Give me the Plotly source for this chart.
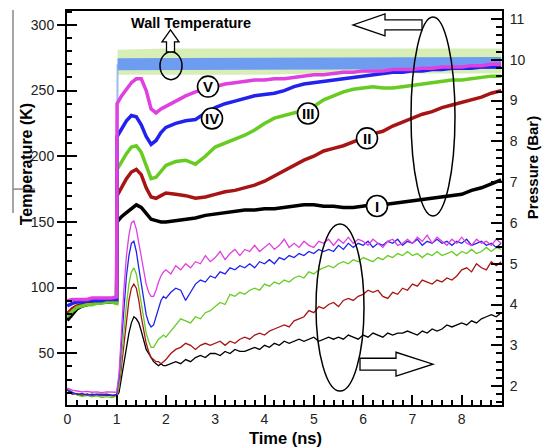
import plotly.graph_objects as go

# ---------------- data ----------------
# sample times (ns)
T_TIME = ([round(0.1 * i, 2) for i in range(11)] + [1.01] +
          [round(1.1 + 0.1 * i, 2) for i in range(10)] +
          [round(2.2 + 0.2 * i, 2) for i in range(34)])
P_TIME = ([round(0.1 * i, 2) for i in range(11)] +
          [round(1.05 + 0.05 * i, 2) for i in range(20)] +
          [round(2.1 + 0.1 * i, 2) for i in range(68)])

CASES = ["I", "II", "III", "IV", "V"]
COLORS = ["#000000", "#A81414", "#66CC22", "#2222EE", "#E040E0"]

# Temperature (K): 0-1 ns pre-heating segment, then 1.01 ns onward
TEMP_I = [75, 80, 84, 86, 87, 88, 88, 89, 89, 89, 89,
          150, 154, 157, 160, 163, 161, 156, 152, 151, 150, 150,
          151, 152, 153, 155, 156, 157, 158, 159, 159, 160,
          160, 161, 162, 163, 163, 162, 162, 161, 161, 162,
          163, 163, 164, 165, 166, 167, 168, 169, 170, 171,
          174, 176, 179, 182]
TEMP_II = [80, 84, 86, 87, 88, 88, 89, 89, 89, 90, 90,
           170, 176, 183, 188, 190, 186, 176, 169, 168, 170, 172,
           171, 170, 168, 169, 171, 173, 174, 176, 178, 181,
           185, 189, 193, 197, 200, 204, 206, 208, 211, 214,
           217, 219, 223, 226, 229, 232, 234, 237, 239, 241,
           243, 245, 248, 250]
TEMP_III = [78, 82, 85, 86, 87, 87, 88, 88, 89, 89, 88,
            190, 196, 202, 207, 208, 203, 192, 183, 184, 189, 193,
            196, 197, 194, 200, 207, 210, 213, 216, 220, 225,
            229, 231, 233, 235, 238, 243, 246, 249, 251, 252,
            253, 252, 252, 253, 254, 255, 256, 257, 258, 258,
            259, 260, 261, 261]
TEMP_IV = [86, 88, 89, 89, 90, 90, 90, 90, 91, 91, 91,
           215, 221, 227, 231, 230, 224, 215, 209, 212, 218, 222,
           225, 227, 228, 233, 237, 240, 242, 244, 246, 247,
           248, 250, 253, 255, 256, 257, 258, 259, 260, 261,
           262, 263, 264, 264, 265, 265, 266, 266, 267, 267,
           267, 268, 268, 268]
TEMP_V = [90, 91, 91, 91, 91, 92, 92, 92, 92, 92, 93,
          240, 246, 251, 256, 259, 259, 250, 236, 233, 236, 238,
          242, 246, 249, 251, 253, 255, 256, 257, 258, 258,
          259, 259, 260, 261, 262, 262, 263, 264, 264, 265,
          265, 265, 266, 266, 266, 267, 267, 268, 268, 268,
          269, 269, 270, 270]

# Pressure (bar)
PRES_I = [1.9, 1.83, 1.8, 1.78, 1.8, 1.78, 1.8, 1.79, 1.8, 1.78, 1.75,
          1.85, 2.2, 2.6, 3.0, 3.3, 3.55, 3.7, 3.65, 3.55, 3.35, 3.1, 2.9, 2.8, 2.7, 2.6, 2.55, 2.5, 2.55, 2.5, 2.5,
          2.55, 2.6, 2.55, 2.65, 2.6, 2.7, 2.75, 2.7, 2.8, 2.8,
          2.75, 2.85, 2.8, 2.9, 2.85, 2.85, 2.9, 2.95, 2.9, 3.0,
          2.95, 3.05, 3.0, 3.1, 3.05, 3.1, 3.15, 3.1, 3.15, 3.2,
          3.1, 3.15, 3.2, 3.15, 3.2, 3.15, 3.25, 3.2, 3.15, 3.25,
          3.2, 3.3, 3.25, 3.2, 3.3, 3.25, 3.3, 3.3, 3.35, 3.3,
          3.25, 3.35, 3.3, 3.4, 3.35, 3.4, 3.5, 3.45, 3.5, 3.55,
          3.5, 3.6, 3.55, 3.65, 3.7, 3.75, 3.7, 3.8]
PRES_II = [1.92, 1.8, 1.82, 1.76, 1.8, 1.77, 1.79, 1.76, 1.78, 1.77, 1.75,
           1.95, 2.5, 3.1, 3.6, 4.1, 4.4, 4.5, 4.4, 4.1, 3.7, 3.35, 3.05, 2.85, 2.7, 2.65, 2.6, 2.6, 2.55, 2.6, 2.65,
           2.8, 2.9, 2.95, 3.05, 3.0, 2.9, 3.0, 3.05, 3.0, 3.05,
           3.1, 3.0, 3.1, 3.05, 3.15, 3.2, 3.15, 3.25, 3.3, 3.25,
           3.35, 3.4, 3.45, 3.5, 3.45, 3.6, 3.65, 3.7, 3.85, 3.8,
           3.95, 3.9, 4.0, 4.05, 3.95, 4.1, 4.15, 4.1, 4.2, 4.25,
           4.35, 4.3, 4.35, 4.2, 4.15, 4.3, 4.25, 4.4, 4.35, 4.5,
           4.45, 4.6, 4.55, 4.5, 4.6, 4.55, 4.65, 4.6, 4.7, 4.85,
           4.9, 4.8, 5.0, 4.9, 4.85, 5.05, 4.95, 5.05]
PRES_III = [1.95, 1.85, 1.78, 1.75, 1.77, 1.74, 1.76, 1.72, 1.74, 1.72, 1.75,
            2.0, 2.7, 3.4, 4.0, 4.5, 4.8, 4.9, 4.75, 4.4, 4.0, 3.6, 3.3, 3.1, 2.95, 2.95, 3.05, 3.15, 3.2, 3.25, 3.2,
            3.35, 3.5, 3.65, 3.6, 3.55, 3.7, 3.65, 3.8, 3.85, 3.95,
            4.05, 4.0, 4.25, 4.2, 4.3, 4.25, 4.35, 4.4, 4.35, 4.5,
            4.45, 4.55, 4.5, 4.6, 4.55, 4.65, 4.7, 4.65, 4.8, 4.75,
            4.85, 4.9, 4.95, 4.9, 5.0, 5.05, 5.0, 5.1, 5.05, 5.15,
            5.1, 5.05, 5.15, 5.1, 5.2, 5.15, 5.25, 5.2, 5.3, 5.2,
            5.25, 5.15, 5.25, 5.2, 5.3, 5.2, 5.25, 5.3, 5.2, 5.3,
            5.25, 5.35, 5.25, 5.3, 5.4, 5.3, 5.4, 5.35]
PRES_IV = [1.9, 1.85, 1.8, 1.82, 1.78, 1.8, 1.79, 1.8, 1.78, 1.77, 1.8,
           2.2, 3.1, 4.0, 4.7, 5.2, 5.5, 5.55, 5.3, 4.9, 4.5, 4.1, 3.75, 3.55, 3.45, 3.5, 3.7, 3.95, 4.1, 4.2, 4.15,
           4.3, 4.4, 4.35, 4.1, 4.3, 4.5, 4.6, 4.55, 4.7, 4.65,
           4.8, 4.75, 4.9, 4.85, 4.95, 4.9, 5.0, 4.9, 5.05, 5.0,
           5.1, 5.0, 5.15, 5.1, 5.2, 5.15, 5.25, 5.2, 5.3, 5.25,
           5.35, 5.3, 5.35, 5.3, 5.45, 5.35, 5.5, 5.4, 5.5, 5.45,
           5.55, 5.4, 5.5, 5.45, 5.55, 5.5, 5.6, 5.45, 5.55, 5.5,
           5.6, 5.45, 5.55, 5.5, 5.6, 5.5, 5.55, 5.45, 5.55, 5.5,
           5.6, 5.45, 5.5, 5.55, 5.45, 5.5, 5.4, 5.5]
PRES_V = [1.95, 1.9, 1.88, 1.86, 1.87, 1.85, 1.86, 1.84, 1.86, 1.85, 1.85,
          2.3, 3.4, 4.4, 5.2, 5.7, 6.0, 6.05, 5.85, 5.5, 5.1, 4.75, 4.5, 4.3, 4.2, 4.2, 4.35, 4.55, 4.7, 4.8, 4.85,
          4.75, 4.95, 4.85, 5.0, 4.9, 5.05, 5.0, 5.2, 5.05, 5.15,
          5.3, 5.1, 5.25, 5.35, 5.2, 5.35, 5.3, 5.45, 5.3, 5.4,
          5.5, 5.35, 5.45, 5.6, 5.4, 5.5, 5.4, 5.55, 5.45, 5.4,
          5.55, 5.5, 5.6, 5.45, 5.6, 5.5, 5.65, 5.5, 5.6, 5.55,
          5.45, 5.6, 5.5, 5.4, 5.55, 5.6, 5.45, 5.5, 5.6, 5.5,
          5.65, 5.55, 5.7, 5.5, 5.65, 5.55, 5.45, 5.6, 5.5, 5.65,
          5.5, 5.45, 5.6, 5.5, 5.55, 5.45, 5.6, 5.5]

# Wall temperature (K): central band and spike envelope
WALL_TIME = [1.0, 1.02, 2, 3, 4, 5, 6, 7, 8, 8.8]
WALL_MEAN = [92, 270, 270, 270, 270, 271, 271, 271, 271, 271]
WALL_HIGH = [281, 281, 282, 282, 282, 282, 282, 282, 282, 282]
WALL_LOW = [262, 262, 262, 262, 262, 263, 263, 263, 263, 263]

TEMPS = [TEMP_I, TEMP_II, TEMP_III, TEMP_IV, TEMP_V]
PRESS = [PRES_I, PRES_II, PRES_III, PRES_IV, PRES_V]

for n, a in zip(CASES, TEMPS):
    if len(a) != len(T_TIME):
        print("temp length mismatch", n, len(a), len(T_TIME))
for n, a in zip(CASES, PRESS):
    if len(a) != len(P_TIME):
        print("pres length mismatch", n, len(a), len(P_TIME))

# ---------------- figure ----------------
W, H = 544, 447
ML, MR, MT, MB = 67, 42, 9, 42
PW, PH = W - ML - MR, H - MT - MB


def px(x):
    return (x - ML) / PW


def py(y):
    return (H - MB - y) / PH


XR = [-0.006, 8.817]
TR = [10.6, 310.6]
PR = [1.537, 11.195]

fig = go.Figure()

fig.add_trace(go.Scatter(x=WALL_TIME[1:], y=WALL_LOW[1:], mode="lines",
                         line=dict(color="rgba(0,0,0,0)", width=0),
                         showlegend=False, hoverinfo="skip"))
fig.add_trace(go.Scatter(x=WALL_TIME[1:], y=WALL_HIGH[1:], mode="lines", fill="tonexty",
                         fillcolor="rgba(160,215,80,0.42)",
                         line=dict(color="rgba(0,0,0,0)", width=0),
                         showlegend=False, hoverinfo="skip"))
# vertical rise of the wall temperature at 1 ns
fig.add_trace(go.Scatter(x=WALL_TIME[:2], y=WALL_MEAN[:2], mode="lines",
                         line=dict(color="#9DBBF2", width=2),
                         showlegend=False, hoverinfo="skip"))
fig.add_trace(go.Scatter(x=WALL_TIME[1:], y=WALL_MEAN[1:], mode="lines",
                         line=dict(color="#6E9CF0", width=12),
                         showlegend=False, hoverinfo="skip"))

for name, col, vals in zip(CASES, COLORS, TEMPS):
    fig.add_trace(go.Scatter(x=T_TIME, y=vals, mode="lines", name="T " + name,
                             line=dict(color=col, width=3.5), showlegend=False))

for name, col, vals in zip(CASES, COLORS, PRESS):
    fig.add_trace(go.Scatter(x=P_TIME, y=vals, mode="lines", name="P " + name,
                             yaxis="y2", line=dict(color=col, width=1.3),
                             showlegend=False))

# invisible trace for the overlay tick axis
fig.add_trace(go.Scatter(x=[0], y=[100], yaxis="y3", mode="markers",
                         marker=dict(opacity=0), showlegend=False, hoverinfo="skip"))

tickfont = dict(family="Liberation Sans, Arial, sans-serif", size=14, color="#222")
axis_common = dict(showgrid=False, zeroline=False, linecolor="black", linewidth=2,
                   tickcolor="black", tickwidth=2, tickfont=tickfont)

fig.update_layout(
    width=W, height=H,
    margin=dict(l=ML, r=MR, t=MT, b=MB, pad=0),
    plot_bgcolor="white", paper_bgcolor="white",
    showlegend=False,
    xaxis=dict(range=XR, showline=True, mirror=True, ticks="inside", ticklen=10,
               tick0=0, dtick=1, ticklabelstandoff=0,
               minor=dict(ticks="inside", ticklen=5, dtick=0.2, tick0=0,
                          tickcolor="black", tickwidth=1.5),
               **axis_common),
    yaxis=dict(range=TR, showline=True, mirror=True, ticks="outside", ticklen=8,
               tick0=0, dtick=50,
               minor=dict(ticks="inside", ticklen=5, dtick=10, tick0=0,
                          tickcolor="black", tickwidth=1.5),
               **axis_common),
    yaxis2=dict(range=PR, overlaying="y", side="right", anchor="x", showline=True,
                ticks="inside", ticklen=11, tick0=0, dtick=1, ticklabelstandoff=3,
                minor=dict(ticks="inside", ticklen=6, dtick=0.2, tick0=0,
                           tickcolor="black", tickwidth=1.5),
                **axis_common),
    yaxis3=dict(range=TR, overlaying="y", side="left", anchor="x", showline=False,
                ticks="inside", ticklen=10, tick0=0, dtick=50, showticklabels=False,
                showgrid=False, zeroline=False, tickcolor="black", tickwidth=2),
)

shapes = []
# ellipses
for (x0, y0, x1, y1) in [(160, 50, 182, 78), (411, 15, 455, 215), (316, 223, 364, 391)]:
    shapes.append(dict(type="circle", xref="paper", yref="paper",
                       x0=px(x0), x1=px(x1), y0=py(y1), y1=py(y0),
                       line=dict(color="black", width=1.5), layer="above"))


def path(points):
    s = "M " + " L ".join(f"{px(a):.5f},{py(b):.5f}" for a, b in points) + " Z"
    return s


# up arrow to "Wall Temperature"
shapes.append(dict(type="path", xref="paper", yref="paper", layer="above",
                   path=path([(166.5, 50), (166.5, 40), (162, 40), (170.5, 28),
                              (179, 40), (174.5, 40), (174.5, 50)]),
                   fillcolor="white", line=dict(color="black", width=1.3)))
# left-pointing arrow (top right)
shapes.append(dict(type="path", xref="paper", yref="paper", layer="above",
                   path=path([(422, 18), (385, 18), (385, 12), (353, 23),
                              (385, 34), (385, 28), (422, 28)]),
                   fillcolor="white", line=dict(color="black", width=1.3)))
# right-pointing arrow (bottom)
shapes.append(dict(type="path", xref="paper", yref="paper", layer="above",
                   path=path([(360, 358), (396, 358), (396, 352), (433, 364),
                              (396, 376), (396, 370), (360, 370)]),
                   fillcolor="white", line=dict(color="black", width=1.3)))

# circled case labels
LABEL_POS = {"V": (208, 85), "IV": (212, 117), "III": (308, 112),
             "II": (367, 137), "I": (377, 205)}
annotations = []
for lab, (cx, cy) in LABEL_POS.items():
    r = 10.5
    shapes.append(dict(type="circle", xref="paper", yref="paper", layer="above",
                       x0=px(cx - r), x1=px(cx + r), y0=py(cy + r), y1=py(cy - r),
                       fillcolor="white", line=dict(color="black", width=1.6)))
    annotations.append(dict(text=f"<b>{lab}</b>", x=px(cx), y=py(cy), xref="paper",
                            yref="paper", showarrow=False, xanchor="center",
                            yanchor="middle",
                            font=dict(family="Liberation Sans, Arial", size=15,
                                      color="black")))

# stray frame lines at the far left of the original figure
shapes.append(dict(type="line", xref="paper", yref="paper", x0=px(13), x1=px(13),
                   y0=py(8), y1=py(212), line=dict(color="#888", width=1.5)))
shapes.append(dict(type="line", xref="paper", yref="paper", x0=px(13), x1=px(35),
                   y0=py(188), y1=py(188), line=dict(color="#888", width=1.5)))

titlefont = dict(family="Liberation Sans, Arial, sans-serif", size=16, color="black")
annotations += [
    dict(text="<b>Wall Temperature</b>", x=px(191), y=py(21), xref="paper", yref="paper",
         showarrow=False, xanchor="center", yanchor="middle",
         font=dict(family="Liberation Sans, Arial", size=14.5, color="black")),
    dict(text="<b>Time (ns)</b>", x=px(285), y=py(438), xref="paper", yref="paper",
         showarrow=False, xanchor="center", yanchor="middle",
         font=dict(family="Liberation Sans, Arial", size=16.5, color="black")),
    dict(text="<b>Temperature (K)</b>", x=px(26), y=py(163), xref="paper", yref="paper",
         showarrow=False, xanchor="center", yanchor="middle", textangle=-90,
         font=titlefont),
    dict(text="<b>Pressure (Bar)</b>", x=px(532), y=py(167), xref="paper", yref="paper",
         showarrow=False, xanchor="center", yanchor="middle", textangle=-90,
         font=dict(family="Liberation Sans, Arial", size=15, color="black")),
]

fig.update_layout(shapes=shapes, annotations=annotations)
fig.write_html("out.html")
